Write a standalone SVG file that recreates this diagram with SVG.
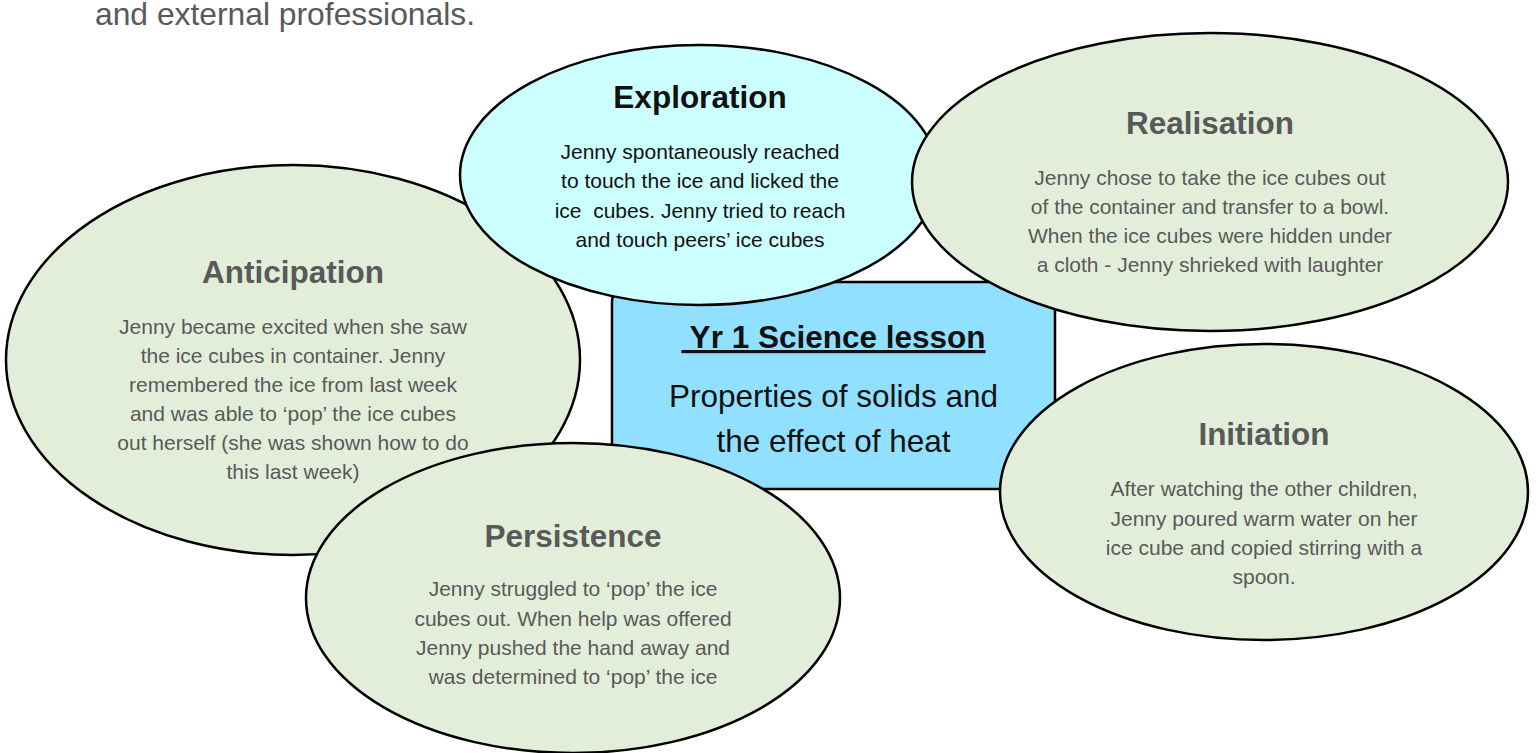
<svg xmlns="http://www.w3.org/2000/svg" width="1536" height="753" viewBox="0 0 1536 753">
<style>
.shape{stroke:#000;stroke-width:2.5}
.green{fill:#E2EEDA}
.t{font-family:"Liberation Sans",Arial,sans-serif;text-anchor:middle}
.title{font-size:31.5px;font-weight:bold}
.body{font-size:21px}
.gray{fill:#595959}
.dark{fill:#111}
</style>
<rect width="1536" height="753" fill="#fff"/>
<text x="95" y="25" font-family="Liberation Sans, Arial, sans-serif" font-size="31.8" fill="#595959">and external professionals.</text>
<g id="connectors"/>
<g id="center">
<rect class="shape" x="612" y="282" width="443" height="207" rx="20" fill="#92E0FF"/>
<text class="t title dark" x="833.5" y="348" xml:space="preserve" text-decoration="underline"> Yr 1 Science lesson</text>
<text class="t dark" x="833.5" y="407" font-size="31.5">Properties of solids and</text>
<text class="t dark" x="833.5" y="452" font-size="31.5">the effect of heat</text>
</g>
<g id="anticipation">
<ellipse class="shape green" cx="293" cy="360" rx="287" ry="195"/>
<text class="t title gray" x="293" y="283">Anticipation</text>
<text class="t body gray" x="293" y="334">Jenny became excited when she saw</text>
<text class="t body gray" x="293" y="363">the ice cubes in container. Jenny</text>
<text class="t body gray" x="293" y="392">remembered the ice from last week</text>
<text class="t body gray" x="293" y="421">and was able to ‘pop’ the ice cubes</text>
<text class="t body gray" x="293" y="450">out herself (she was shown how to do</text>
<text class="t body gray" x="293" y="479">this last week)</text>
</g>
<g id="exploration">
<ellipse class="shape" cx="699" cy="175" rx="239" ry="130" fill="#CCFFFF"/>
<text class="t title dark" x="700" y="108">Exploration</text>
<text class="t body dark" x="700" y="159">Jenny spontaneously reached</text>
<text class="t body dark" x="700" y="188">to touch the ice and licked the</text>
<text class="t body dark" x="700" y="218" xml:space="preserve">ice  cubes. Jenny tried to reach</text>
<text class="t body dark" x="700" y="247">and touch peers’ ice cubes</text>
</g>
<g id="realisation">
<ellipse class="shape green" cx="1210" cy="182" rx="298" ry="149"/>
<text class="t title gray" x="1210" y="134">Realisation</text>
<text class="t body gray" x="1210" y="185">Jenny chose to take the ice cubes out</text>
<text class="t body gray" x="1210" y="214">of the container and transfer to a bowl.</text>
<text class="t body gray" x="1210" y="243">When the ice cubes were hidden under</text>
<text class="t body gray" x="1210" y="272">a cloth - Jenny shrieked with laughter</text>
</g>
<g id="initiation">
<ellipse class="shape green" cx="1264" cy="492" rx="264" ry="148"/>
<text class="t title gray" x="1264" y="445">Initiation</text>
<text class="t body gray" x="1264" y="496">After watching the other children,</text>
<text class="t body gray" x="1264" y="526">Jenny poured warm water on her</text>
<text class="t body gray" x="1264" y="555">ice cube and copied stirring with a</text>
<text class="t body gray" x="1264" y="584">spoon.</text>
</g>
<g id="persistence">
<ellipse class="shape green" cx="573" cy="598" rx="267" ry="155"/>
<text class="t title gray" x="573" y="547">Persistence</text>
<text class="t body gray" x="573" y="596">Jenny struggled to ‘pop’ the ice</text>
<text class="t body gray" x="573" y="626">cubes out. When help was offered</text>
<text class="t body gray" x="573" y="655">Jenny pushed the hand away and</text>
<text class="t body gray" x="573" y="684">was determined to ‘pop’ the ice</text>
</g>
</svg>
